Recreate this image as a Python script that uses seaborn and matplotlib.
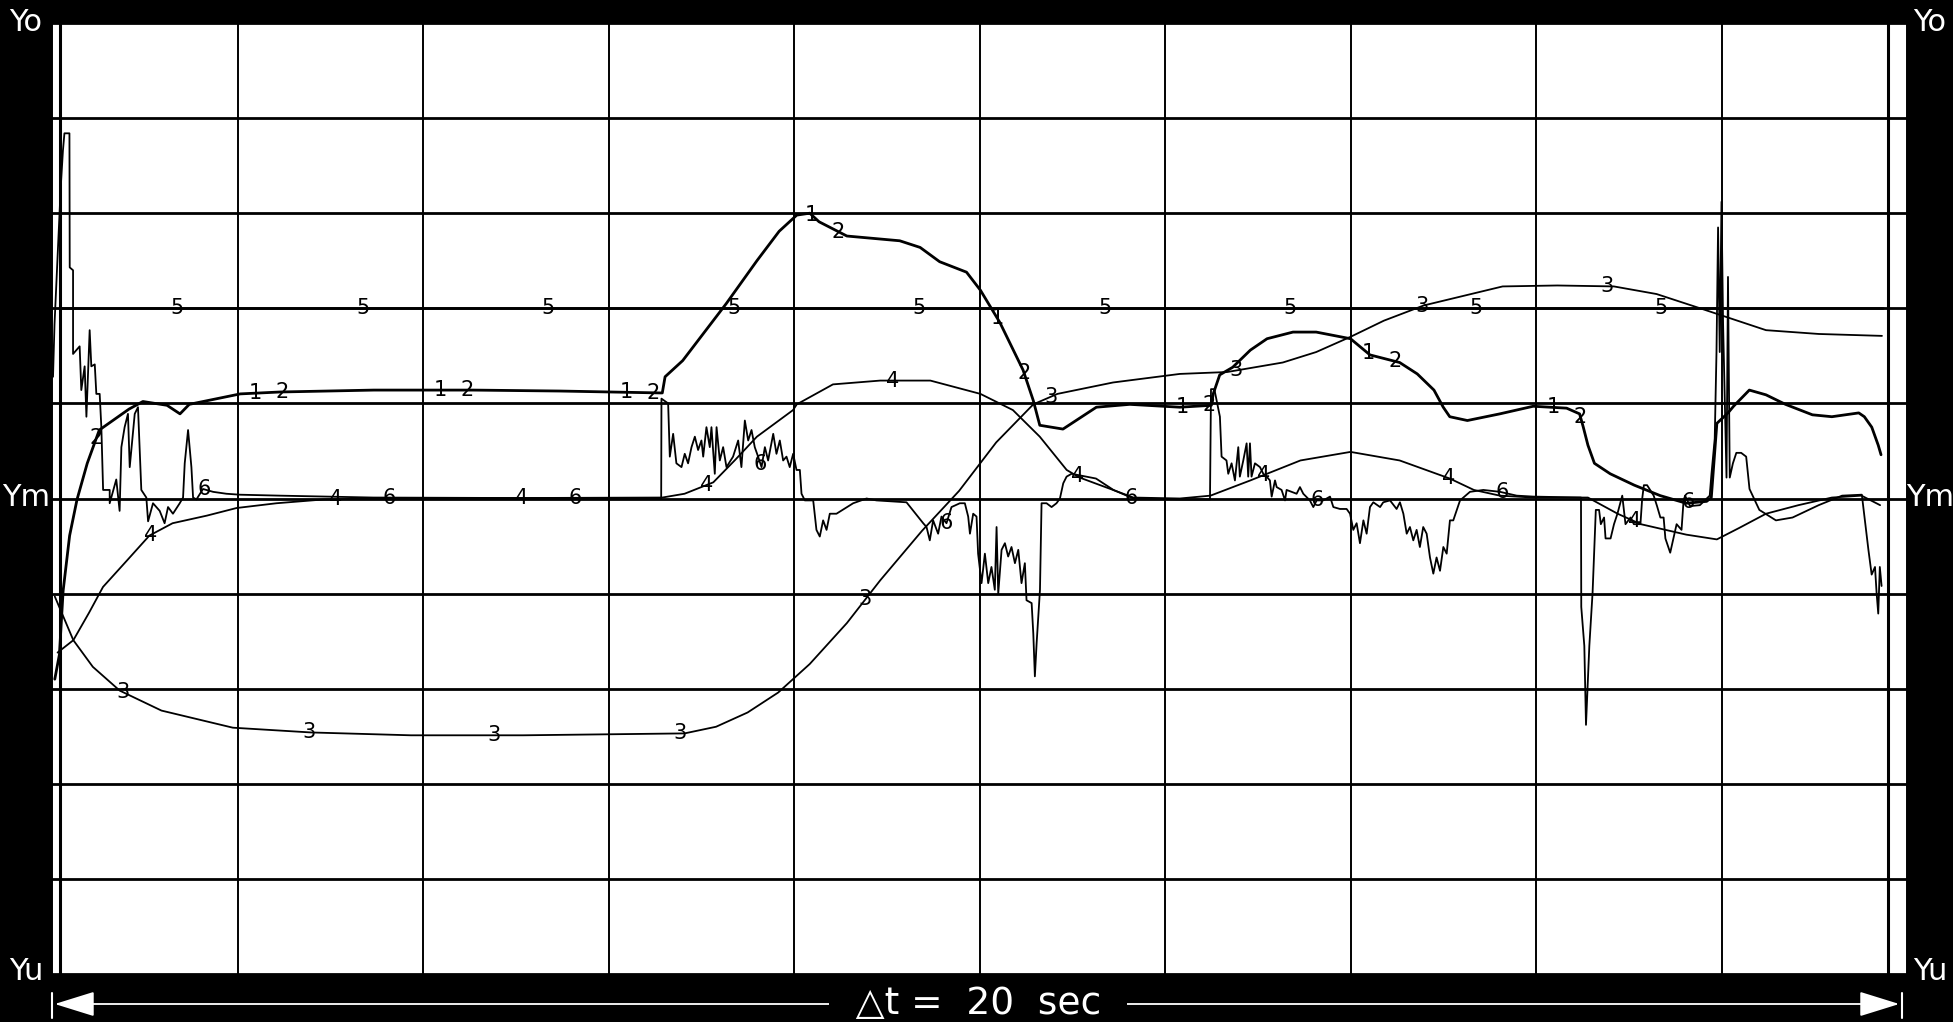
import numpy as np
import matplotlib
matplotlib.use("Agg")
import matplotlib.pyplot as plt
from matplotlib.patches import FancyArrowPatch
from matplotlib.lines import Line2D
import seaborn as sns

# recorder channels, time in s, value in divisions (Ym = 0, Yo = +5, Yu = -5)
# channel 1 runs on top of channel 2 for the whole record
ch2 = [(0.3, -1.90), (0.8, -1.64), (1.2, -0.97), (1.9, -0.39), (2.7, -0.01), (3.8, 0.37),
       (5.1, 0.72), (8.3, 0.94), (9.8, 1.02), (12.4, 0.98), (13.8, 0.89), (14.8, 0.99),
       (20.3, 1.10), (24.6, 1.12), (34.7, 1.14), (45.4, 1.14), (54.8, 1.13), (65.6, 1.11),
       (65.8, 1.11), (66.1, 1.28), (68.0, 1.45), (72.7, 2.05), (76.0, 2.50), (78.4, 2.81),
       (80.3, 2.98), (81.7, 3.00), (82.7, 2.91), (85.7, 2.76), (91.4, 2.71), (93.6, 2.64),
       (95.7, 2.49), (98.6, 2.38), (100.1, 2.19), (102.2, 1.85), (104.7, 1.35), (105.8, 1.03),
       (106.5, 0.77), (109.0, 0.73), (112.6, 0.96), (116.2, 0.99), (121.6, 0.96), (125.0, 0.98),
       (125.2, 1.10), (125.9, 1.30), (127.3, 1.38), (129.2, 1.56), (131.0, 1.68), (133.8, 1.75),
       (136.3, 1.75), (140.0, 1.68), (142.1, 1.51), (145.3, 1.43), (147.2, 1.31), (149.0, 1.14),
       (150.0, 0.96), (150.7, 0.86), (152.6, 0.82), (156.1, 0.89), (159.7, 0.97), (163.3, 0.95),
       (164.7, 0.89), (165.1, 0.75), (165.6, 0.56), (166.3, 0.37), (168.0, 0.26), (170.6, 0.14),
       (173.4, 0.03), (176.2, -0.05), (178.4, -0.03), (178.9, 0.01), (179.5, 0.79), (180.7, 0.90),
       (181.3, 0.97), (183.0, 1.14), (184.8, 1.09), (186.9, 0.99), (189.8, 0.88), (191.9, 0.86),
       (194.8, 0.90), (195.4, 0.86), (196.2, 0.75), (196.9, 0.56), (197.2, 0.46)]

ch3 = [(0.3, -1.03), (2.3, -1.49), (4.4, -1.77), (7.3, -2.02), (11.8, -2.23), (19.5, -2.41),
       (27.9, -2.46), (38.7, -2.49), (50.8, -2.49), (68.2, -2.47), (71.6, -2.40), (75.0, -2.25),
       (78.3, -2.04), (81.7, -1.74), (85.7, -1.31), (89.3, -0.86), (93.8, -0.34), (97.8, 0.08),
       (101.8, 0.59), (105.8, 0.99), (108.4, 1.10), (114.4, 1.22), (121.6, 1.31), (126.7, 1.33),
       (132.7, 1.43), (136.3, 1.54), (140.0, 1.70), (143.6, 1.87), (147.9, 2.03), (156.4, 2.23),
       (162.3, 2.24), (168.4, 2.23), (173.0, 2.15), (177.7, 2.00), (184.8, 1.77), (190.5, 1.73),
       (197.3, 1.71)]

ch4 = [(0.6, -1.62), (2.3, -1.49), (4.0, -1.20), (5.5, -0.93), (8.1, -0.65), (10.5, -0.39),
       (13.0, -0.26), (16.7, -0.18), (19.9, -0.10), (24.2, -0.05), (29.3, -0.01), (34.7, 0.0),
       (65.8, 0.01), (68.2, 0.05), (71.3, 0.17), (73.6, 0.40), (76.0, 0.65), (79.9, 0.93),
       (80.3, 0.99), (84.2, 1.20), (89.3, 1.24), (94.7, 1.24), (100.1, 1.10), (103.6, 0.93),
       (106.5, 0.65), (109.4, 0.30), (110.8, 0.22), (114.4, 0.09), (116.6, 0.01), (121.6, 0.0),
       (124.9, 0.03), (129.2, 0.19), (134.6, 0.40), (140.0, 0.49), (145.3, 0.40), (150.7, 0.21),
       (153.3, 0.09), (156.1, 0.03), (159.7, 0.01), (165.6, 0.01), (168.8, -0.16), (171.3, -0.27),
       (176.2, -0.38), (179.5, -0.43), (181.9, -0.31), (184.8, -0.16), (188.3, -0.07),
       (191.9, 0.01), (195.1, 0.03), (197.1, -0.07)]

ch5 = [(0.8, 2.0), (197.4, 2.0)]

ch6 = [(0.11, 1.28), (0.27, 1.83), (0.64, 2.62), (0.94, 3.27), (1.18, 3.66), (1.34, 3.84),
       (1.88, 3.84), (1.91, 2.43), (2.27, 2.40), (2.27, 1.52), (2.98, 1.60), (3.16, 1.14),
       (3.52, 1.39), (3.71, 0.86), (4.06, 1.77), (4.24, 1.39), (4.61, 1.41), (4.78, 1.10),
       (5.14, 1.10), (5.32, 0.75), (5.51, 0.09), (6.22, 0.09), (6.22, -0.05), (6.93, 0.20),
       (7.29, -0.13), (7.48, 0.54), (7.83, 0.75), (8.19, 0.89), (8.38, 0.33), (8.92, 0.89),
       (9.27, 0.96), (9.63, 0.09), (10.17, 0.01), (10.36, -0.24), (10.89, -0.05), (11.61, -0.13),
       (12.14, -0.26), (12.51, -0.09), (13.04, -0.16), (13.77, -0.05), (14.13, 0.01), (14.31, 0.37),
       (14.67, 0.72), (15.03, 0.33), (15.21, 0.01), (15.57, -0.01), (16.28, 0.10), (17.37, 0.07),
       (18.80, 0.05), (20.24, 0.04), (24.58, 0.03), (34.65, 0.01), (65.68, 0.0), (65.71, 1.05),
       (66.43, 1.00), (66.61, 0.44), (66.97, 0.68), (67.32, 0.37), (67.87, 0.33), (68.22, 0.47),
       (68.58, 0.37), (68.95, 0.54), (69.31, 0.65), (69.66, 0.51), (70.02, 0.61), (70.21, 0.44),
       (70.56, 0.75), (70.92, 0.54), (71.10, 0.75), (71.46, 0.26), (71.65, 0.75), (72.00, 0.40),
       (72.36, 0.54), (72.72, 0.33), (73.43, 0.44), (73.98, 0.61), (74.33, 0.33), (74.70, 0.82),
       (75.06, 0.61), (75.42, 0.72), (75.77, 0.54), (76.13, 0.44), (76.50, 0.33), (76.86, 0.54),
       (77.21, 0.40), (77.76, 0.68), (78.11, 0.47), (78.47, 0.61), (78.83, 0.40), (79.19, 0.44),
       (79.54, 0.33), (79.91, 0.47), (80.27, 0.30), (80.63, 0.30), (80.81, 0.05), (81.17, -0.02),
       (82.07, -0.02), (82.42, -0.33), (82.78, -0.40), (83.14, -0.23), (83.51, -0.33), (83.86, -0.16),
       (84.58, -0.16), (86.38, -0.05), (87.82, 0.0), (88.89, -0.02), (92.13, -0.04), (93.93, -0.26),
       (94.29, -0.30), (94.64, -0.44), (95.00, -0.23), (95.54, -0.37), (95.90, -0.19), (96.44, -0.26),
       (96.98, -0.09), (97.88, -0.05), (98.42, -0.05), (98.78, -0.19), (98.97, -0.37), (99.32, -0.16),
       (99.68, -0.19), (99.85, -0.58), (100.22, -0.89), (100.58, -0.58), (100.94, -0.89),
       (101.29, -0.72), (101.65, -0.96), (101.84, -0.30), (102.02, -1.00), (102.38, -0.54),
       (102.74, -0.47), (103.09, -0.61), (103.45, -0.51), (103.82, -0.68), (104.18, -0.54),
       (104.53, -0.89), (104.89, -0.68), (105.07, -1.07), (105.62, -1.10), (105.80, -1.42),
       (105.97, -1.87), (106.16, -1.52), (106.34, -1.24), (106.52, -0.96), (106.69, -0.05),
       (107.23, -0.05), (107.77, -0.09), (108.30, -0.05), (108.67, 0.0), (109.03, 0.16),
       (109.39, 0.23), (109.93, 0.26), (112.56, 0.21), (114.44, 0.09), (116.59, 0.0),
       (122.00, -0.01), (124.85, -0.01), (124.96, 1.15), (125.32, 1.15), (125.92, 0.86),
       (126.10, 0.44), (126.63, 0.40), (126.82, 0.26), (127.18, 0.37), (127.54, 0.19),
       (127.90, 0.54), (128.07, 0.23), (128.44, 0.40), (128.80, 0.58), (128.97, 0.23),
       (129.16, 0.58), (129.33, 0.23), (129.70, 0.37), (130.24, 0.33), (130.60, 0.26),
       (130.96, 0.23), (131.31, 0.19), (131.50, 0.02), (131.86, 0.19), (132.04, 0.12),
       (132.57, 0.09), (132.94, -0.02), (133.11, 0.09), (134.19, 0.05), (134.55, 0.12),
       (134.91, 0.05), (135.62, -0.02), (135.99, -0.09), (136.35, -0.02), (137.07, -0.02),
       (137.79, 0.02), (138.15, -0.09), (138.86, -0.11), (139.58, -0.11), (139.95, -0.16),
       (140.30, -0.33), (140.66, -0.26), (141.02, -0.47), (141.39, -0.23), (141.74, -0.37),
       (142.10, -0.09), (142.46, -0.04), (143.19, -0.09), (143.53, -0.04), (144.26, -0.02),
       (144.97, -0.11), (145.33, -0.04), (145.70, -0.16), (146.06, -0.37), (146.41, -0.30),
       (146.77, -0.44), (147.13, -0.33), (147.48, -0.51), (147.84, -0.30), (148.21, -0.37),
       (148.57, -0.62), (148.93, -0.79), (149.28, -0.62), (149.65, -0.76), (150.01, -0.51),
       (150.37, -0.58), (150.72, -0.23), (151.08, -0.23), (151.81, -0.02), (152.88, 0.07),
       (154.32, 0.09), (156.12, 0.07), (157.92, 0.03), (159.71, 0.02), (164.85, 0.01),
       (164.88, -1.14), (165.21, -1.55), (165.39, -2.38), (165.75, -1.55), (166.10, -0.99),
       (166.45, -0.12), (166.80, -0.12), (166.99, -0.27), (167.34, -0.20), (167.50, -0.42),
       (168.04, -0.42), (168.41, -0.27), (168.78, -0.16), (169.30, 0.03), (169.65, -0.27),
       (170.19, -0.20), (170.55, -0.27), (171.26, -0.27), (171.44, -0.01), (171.63, 0.14),
       (171.98, 0.14), (172.69, 0.03), (173.05, -0.08), (173.41, -0.20), (173.76, -0.20),
       (173.95, -0.42), (174.47, -0.57), (174.82, -0.42), (175.16, -0.27), (175.69, -0.33),
       (175.89, -0.05), (176.07, 0.03), (176.61, -0.08), (177.67, -0.07), (178.73, 0.03),
       (178.92, 0.26), (179.27, 0.63), (179.46, 1.54), (179.63, 2.85), (179.81, 1.54),
       (180.00, 3.12), (180.17, 1.84), (180.54, 0.22), (180.70, 2.33), (180.89, 0.22),
       (181.23, 0.37), (181.60, 0.48), (182.12, 0.48), (182.66, 0.44), (183.02, 0.10),
       (183.36, 0.03), (184.08, -0.12), (185.87, -0.23), (187.66, -0.20), (190.48, -0.07),
       (193.00, 0.03), (195.13, 0.04), (195.47, -0.24), (195.84, -0.54), (196.19, -0.80),
       (196.55, -0.72), (196.72, -0.99), (196.90, -1.21), (197.07, -0.72), (197.26, -0.92)]

# channel number labels repeat every 20 s, each channel with its own offset
label_start = {1: 1.9, 2: 4.8, 3: 7.7, 4: 10.6, 5: 13.5, 6: 16.4}
record_start, record_end = 0.83, 198.0

sns.set_style("white")
plt.rcParams["font.family"] = ["DejaVu Sans"]

fig = plt.figure(figsize=(19.53, 10.22), dpi=100, facecolor="black")
ax = fig.add_axes([52 / 1953, 48 / 1022, 1855 / 1953, 951 / 1022])
ax.set_facecolor("white")

traces = {2: ch2, 3: ch3, 4: ch4, 5: ch5, 6: ch6}
widths = {2: 2.0, 3: 1.3, 4: 1.3, 5: 1.8, 6: 1.3}
for ch, pts in traces.items():
    arr = np.array(pts)
    sns.lineplot(x=arr[:, 0], y=arr[:, 1], ax=ax, sort=False, estimator=None,
                 color="black", lw=widths[ch], zorder=3)

# channel labels on the traces
for ch, t0 in label_start.items():
    arr = np.array(traces[2] if ch == 1 else traces[ch])
    for n in range(9):
        tl = t0 + 20 * n
        if tl < 3:
            continue
        yl = np.interp(tl, arr[:, 0], arr[:, 1])
        ax.text(tl, yl, str(ch), ha="center", va="center", fontsize=15,
                color="black", zorder=4)

ax.set_xlim(0, 200)
ax.set_ylim(-5, 5)
ax.set_xticks(np.arange(0, 201, 20))
ax.set_yticks(np.arange(-5, 6, 1))
ax.grid(axis="y", color="black", lw=2.0, zorder=1)
ax.grid(axis="x", color="black", lw=1.4, zorder=1)
ax.set_axisbelow(True)
ax.tick_params(length=0, labelbottom=False, labelleft=False)
for s in ax.spines.values():
    s.set_visible(False)
ax.axvline(record_start, color="black", lw=2.2, zorder=2)
ax.axvline(record_end, color="black", lw=2.2, zorder=2)
ax.set_xlabel("")
ax.set_ylabel("")

# Yo / Ym / Yu marks on both sides
for txt, yc in [("Yo", 22), ("Ym", 497), ("Yu", 972)]:
    fig.text(26 / 1953, 1 - yc / 1022, txt, color="white", fontsize=22,
             ha="center", va="center")
    fig.text(1930 / 1953, 1 - yc / 1022, txt, color="white", fontsize=22,
             ha="center", va="center")

# time base arrow
ya = 1 - 1004 / 1022
arrow = FancyArrowPatch((52 / 1953, ya), (1902 / 1953, ya), transform=fig.transFigure,
                        arrowstyle="<|-|>,head_length=0.9,head_width=0.28",
                        mutation_scale=28, color="white", lw=1.3)
fig.add_artist(arrow)
for xe in (52, 1902):
    fig.add_artist(Line2D([xe / 1953, xe / 1953], [1 - 993 / 1022, 1 - 1018 / 1022],
                          transform=fig.transFigure, color="white", lw=1.5))
fig.text(978 / 1953, ya, "  \u25b3t =  20  sec  ", color="white", fontsize=27,
         ha="center", va="center",
         bbox=dict(facecolor="black", edgecolor="none", pad=2))

fig.savefig("out.png", dpi=100, facecolor="black")
